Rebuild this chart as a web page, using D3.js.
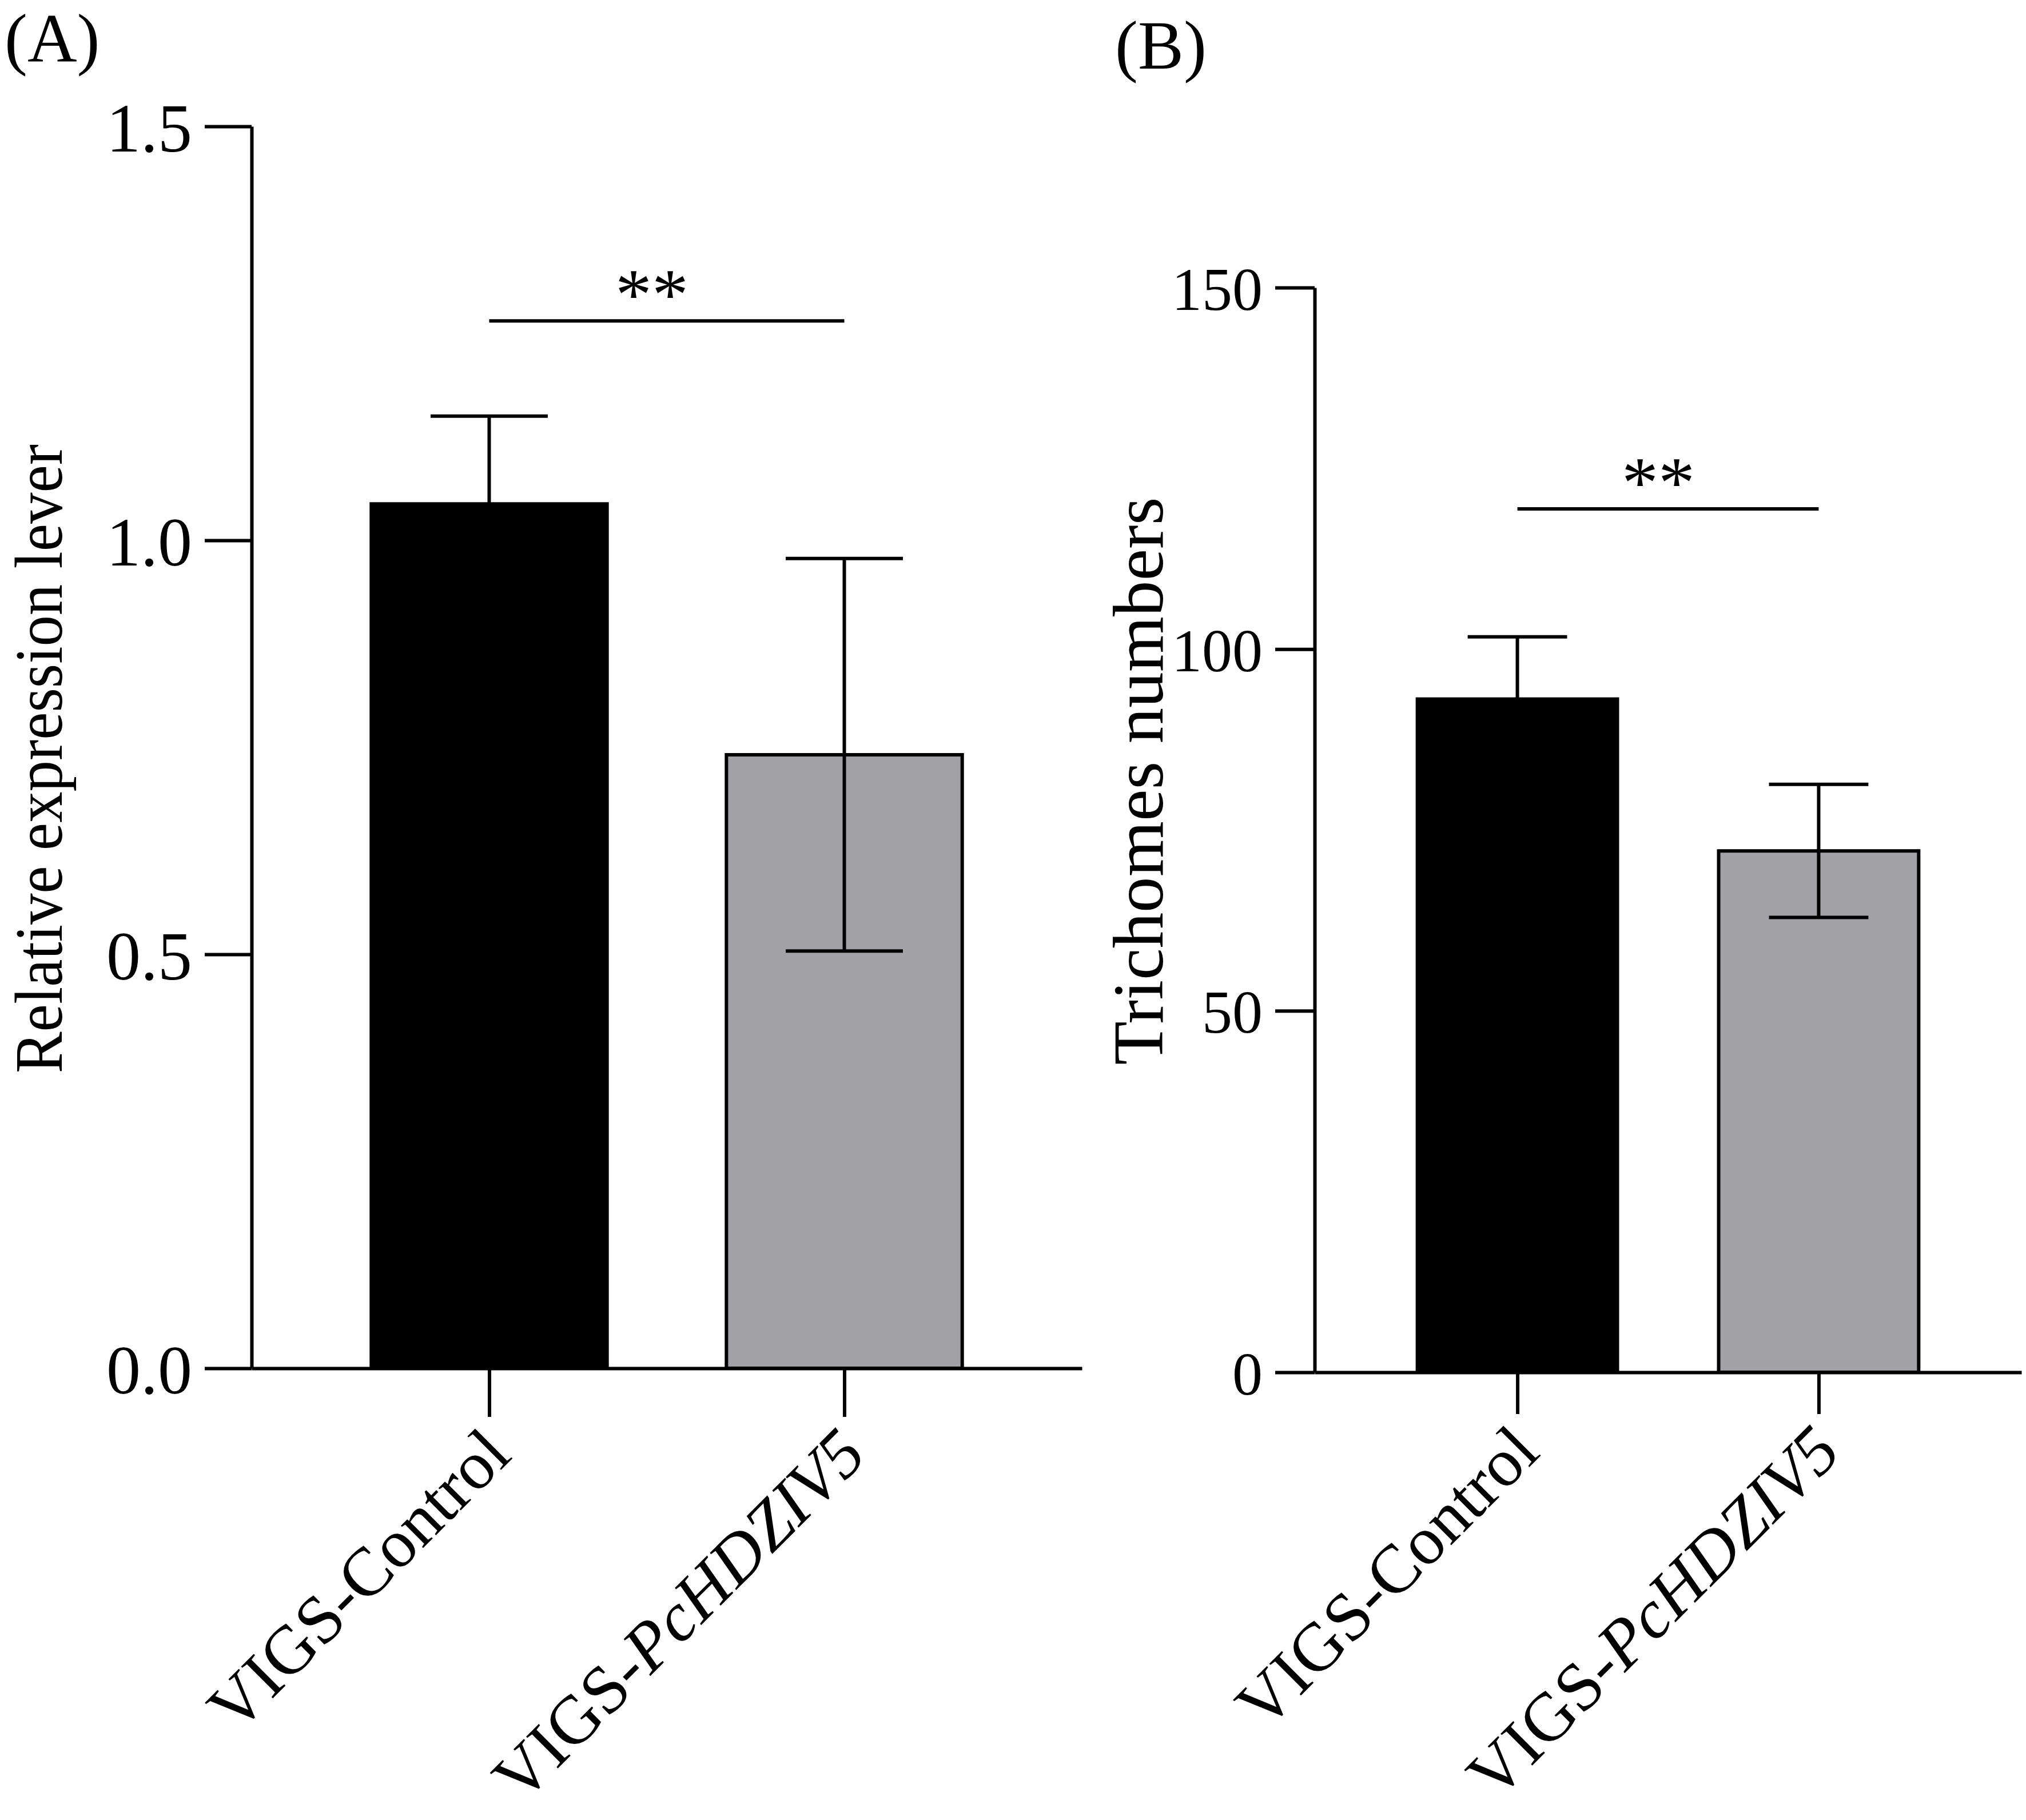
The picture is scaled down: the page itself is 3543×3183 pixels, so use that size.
<!DOCTYPE html>
<html>
<head>
<meta charset="utf-8">
<script src="https://cdn.jsdelivr.net/npm/d3@7"></script>
<style>
  html, body { margin: 0; padding: 0; background: #fff; }
  svg { display: block; }
  text { font-family: "Liberation Serif", "Times New Roman", serif; fill: #000; }
</style>
</head>
<body>
<svg id="chart" width="3543" height="3183"></svg>
<script>
// ---------------- data ----------------
const categories = ["VIGS-Control", "VIGS-PcHDZIV5"];
const labelPlain = ["VIGS-Control", "VIGS-"];
const labelItalic = ["", "PcHDZIV5"];
const barColors = ["#000000", "#a2a1a6"];

// Panel A: relative expression
const exprMean = [1.044, 0.741];
const exprSD = [0.106, 0.237];
const exprTicks = [0, 0.5, 1.0, 1.5];
const exprSig = [1.265];
const exprSigLabel = ["**"];

// Panel B: trichome numbers
const trichMean = [93.1, 72.1];
const trichSD = [8.6, 9.2];
const trichTicks = [0, 50, 100, 150];
const trichSig = [119.4];
const trichSigLabel = ["**"];

const panelTitles = ["(A)", "(B)"];
const yTitles = ["Relative expression lever", "Trichomes numbers"];

// ---------------- drawing ----------------
const svg = d3.select("#chart");
const SW = 6;

function panel(cfg) {
  const g = svg.append("g");
  const y = d3.scaleLinear().domain([cfg.ticks[0], cfg.ticks[cfg.ticks.length - 1]]).range([cfg.yBottom, cfg.yTop]);
  const x = d3.scalePoint().domain(categories).range([cfg.xLeft, cfg.xRight]).padding(cfg.pad);
  const step = x.step();
  const bw = step * 0.664;
  const cap = step * 0.33;

  // bars
  g.selectAll("rect.bar").data(categories).join("rect")
    .attr("class", "bar")
    .attr("x", c => x(c) - bw / 2)
    .attr("width", bw)
    .attr("y", (c, i) => y(cfg.mean[i]))
    .attr("height", (c, i) => y(0) - y(cfg.mean[i]))
    .attr("fill", (c, i) => barColors[i])
    .attr("stroke", "#000")
    .attr("stroke-width", SW);

  // error bars
  const eb = g.selectAll("g.eb").data(categories).join("g").attr("class", "eb")
    .attr("stroke", "#000").attr("stroke-width", SW);
  eb.append("line")
    .attr("x1", c => x(c)).attr("x2", c => x(c))
    .attr("y1", (c, i) => y(cfg.mean[i] - cfg.sd[i]))
    .attr("y2", (c, i) => y(cfg.mean[i] + cfg.sd[i]));
  eb.append("line")
    .attr("x1", c => x(c) - cap / 2).attr("x2", c => x(c) + cap / 2)
    .attr("y1", (c, i) => y(cfg.mean[i] + cfg.sd[i]))
    .attr("y2", (c, i) => y(cfg.mean[i] + cfg.sd[i]));
  eb.append("line")
    .attr("x1", c => x(c) - cap / 2).attr("x2", c => x(c) + cap / 2)
    .attr("y1", (c, i) => y(cfg.mean[i] - cfg.sd[i]))
    .attr("y2", (c, i) => y(cfg.mean[i] - cfg.sd[i]));

  // y axis
  const ya = d3.axisLeft(y).tickValues(cfg.ticks).tickFormat(cfg.fmt)
    .tickSize(cfg.yTick).tickSizeOuter(0).tickPadding(22);
  const gy = g.append("g").attr("transform", `translate(${cfg.xLeft},0)`).call(ya);
  gy.attr("font-family", null).attr("font-size", null);
  gy.selectAll("path, line").attr("stroke", "#000").attr("stroke-width", SW);
  gy.selectAll("text").style("font-size", cfg.tickFont + "px").attr("dy", "0.36em");

  // x axis
  const xa = d3.axisBottom(x).tickSize(cfg.xTick).tickSizeOuter(0).tickFormat("");
  const gx = g.append("g").attr("transform", `translate(0,${cfg.yBottom})`).call(xa);
  gx.selectAll("text").remove();
  gx.selectAll("path, line").attr("stroke", "#000").attr("stroke-width", SW);

  // x labels (rotated)
  const xl = g.selectAll("text.xl").data(categories).join("text")
    .attr("class", "xl")
    .attr("transform", c => `translate(${x(c)},${cfg.yBottom + cfg.xTick}) rotate(-45)`)
    .attr("text-anchor", "end")
    .attr("dx", -20)
    .attr("dy", "0.67em")
    .style("font-size", "120px");
  xl.append("tspan").text((c, i) => labelPlain[i]);
  xl.append("tspan").style("font-style", "italic").text((c, i) => labelItalic[i]);

  // significance
  const x0 = x(categories[0]), x1 = x(categories[1]);
  g.append("line")
    .attr("x1", x0).attr("x2", x1)
    .attr("y1", y(cfg.sig[0])).attr("y2", y(cfg.sig[0]))
    .attr("stroke", "#000").attr("stroke-width", SW);
  g.append("text")
    .attr("x", (x0 + x1) / 2 - cfg.starShift)
    .attr("y", y(cfg.sig[0]) - 3)
    .attr("text-anchor", "middle")
    .style("font-size", "128px")
    .text(cfg.sigLabel[0]);

  // y title
  g.append("text")
    .attr("transform", `translate(${cfg.titleX},${cfg.titleY}) rotate(-90)`)
    .attr("text-anchor", "middle")
    .attr("textLength", cfg.titleLen)
    .attr("lengthAdjust", "spacingAndGlyphs")
    .style("font-size", cfg.titleFont + "px")
    .text(cfg.title);

  // panel letter
  g.append("text")
    .attr("x", cfg.letterX).attr("y", cfg.letterY)
    .style("font-size", cfg.letterFont + "px")
    .text(cfg.letter);
}

panel({
  mean: exprMean, sd: exprSD, ticks: exprTicks, fmt: d3.format(".1f"),
  sig: exprSig, sigLabel: exprSigLabel, starShift: 26,
  xLeft: 440, xRight: 1892, yBottom: 2393, yTop: 221, pad: 0.669,
  yTick: 82, xTick: 85, tickFont: 120,
  title: yTitles[0], titleX: 108, titleY: 1327, titleLen: 1100, titleFont: 119,
  letter: panelTitles[0], letterX: 8, letterY: 108, letterFont: 120
});

panel({
  mean: trichMean, sd: trichSD, ticks: trichTicks, fmt: d3.format("d"),
  sig: trichSig, sigLabel: trichSigLabel, starShift: 17,
  xLeft: 2299, xRight: 3535, yBottom: 2400, yTop: 503, pad: 0.673,
  yTick: 69, xTick: 73, tickFont: 106,
  title: yTitles[1], titleX: 2033, titleY: 1366, titleLen: 993, titleFont: 125,
  letter: panelTitles[1], letterX: 1950, letterY: 120, letterFont: 120
});
</script>
</body>
</html>
